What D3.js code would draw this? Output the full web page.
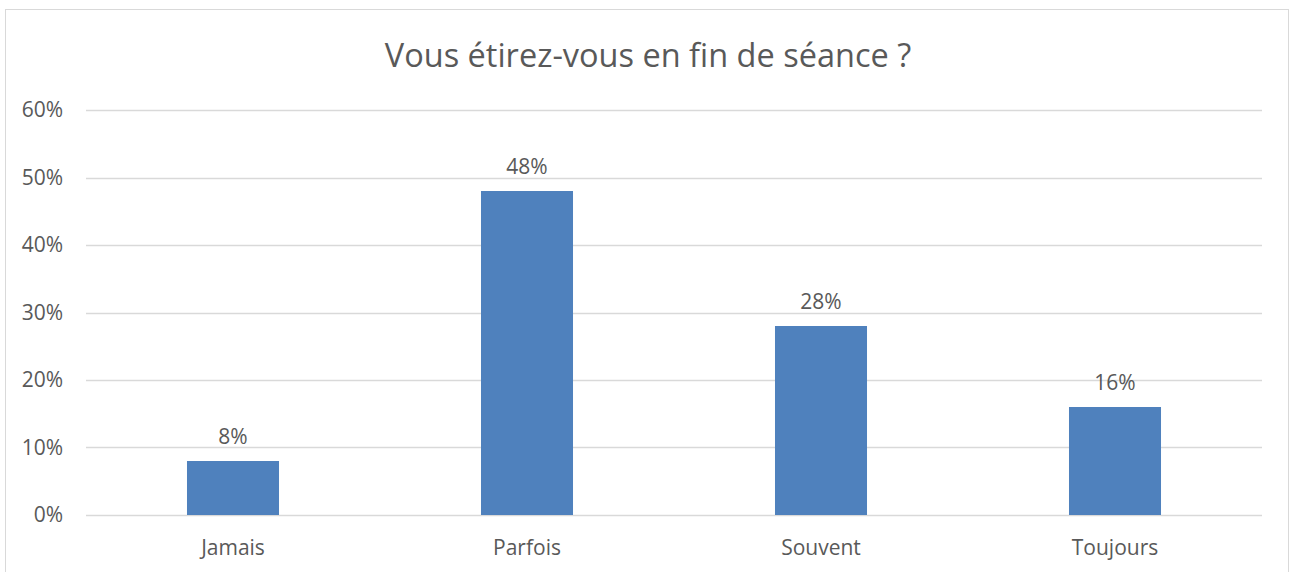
<!DOCTYPE html>
<html lang="fr">
<head>
<meta charset="UTF-8">
<title>Vous étirez-vous en fin de séance ?</title>
<style>
  body { margin: 0; background: #fff; }
  svg text { font-family: "Open Sans", "Noto Sans", sans-serif; fill: #595959; }
</style>
</head>
<body>
<svg id="chart" width="1291" height="572"></svg>
<script src="https://d3js.org/d3.v7.min.js"></script>
<script>
const categories = ["Jamais", "Parfois", "Souvent", "Toujours"];
const values = [0.08, 0.48, 0.28, 0.16];
const yTicks = [0, 0.1, 0.2, 0.3, 0.4, 0.5, 0.6];
const title = "Vous étirez-vous en fin de séance ?";

const width = 1291;
const height = 572;
const plot = { left: 86, right: 1262, top: 110, bottom: 515 };

const svg = d3.select("#chart");

// outer frame
svg.append("rect")
    .attr("x", 5.5).attr("y", 9.5)
    .attr("width", 1283).attr("height", 580)
    .attr("fill", "none")
    .attr("stroke", "#d9d9d9");

svg.append("text")
    .attr("x", 648)
    .attr("y", 67)
    .attr("text-anchor", "middle")
    .style("font-size", "32.5px")
    .text(title);

const x = d3.scaleBand()
    .domain(categories)
    .range([plot.left, plot.right])
    .paddingInner(0.687)
    .paddingOuter(0.3435);

const y = d3.scaleLinear()
    .domain([0, 0.6])
    .range([plot.bottom, plot.top]);

// gridlines
svg.append("g")
    .selectAll("line")
    .data(yTicks)
    .join("line")
    .attr("x1", plot.left).attr("x2", plot.right)
    .attr("y1", d => Math.round(y(d)) + 0.5)
    .attr("y2", d => Math.round(y(d)) + 0.5)
    .attr("stroke", "#d9d9d9")
    .attr("stroke-width", 1.3);

// y labels
const yAxis = d3.axisLeft(y)
    .tickValues(yTicks)
    .tickFormat(d3.format(".0%"))
    .tickSize(0)
    .tickPadding(0);

const gy = svg.append("g")
    .attr("transform", `translate(63, 0)`)
    .call(yAxis);
gy.select(".domain").remove();
gy.selectAll("text")
    .style("font-size", "21px")
    .attr("fill", "#595959")
    .attr("font-family", null);

// bars
svg.append("g")
    .selectAll("rect")
    .data(values)
    .join("rect")
    .attr("x", (d, i) => x(categories[i]))
    .attr("y", d => y(d))
    .attr("width", x.bandwidth())
    .attr("height", d => y(0) - y(d))
    .attr("fill", "#4f81bd");

// value labels
svg.append("g")
    .selectAll("text")
    .data(values)
    .join("text")
    .attr("x", (d, i) => x(categories[i]) + x.bandwidth() / 2)
    .attr("y", d => y(d) - 17)
    .attr("text-anchor", "middle")
    .style("font-size", "21px")
    .text(d => d3.format(".0%")(d));

// x labels
const xAxis = d3.axisBottom(x).tickSize(0).tickPadding(0);
const gx = svg.append("g")
    .attr("transform", `translate(0, 555)`)
    .call(xAxis);
gx.select(".domain").remove();
gx.selectAll("text")
    .attr("dy", 0)
    .style("font-size", "21px")
    .attr("fill", "#595959")
    .attr("font-family", null);
</script>
</body>
</html>
